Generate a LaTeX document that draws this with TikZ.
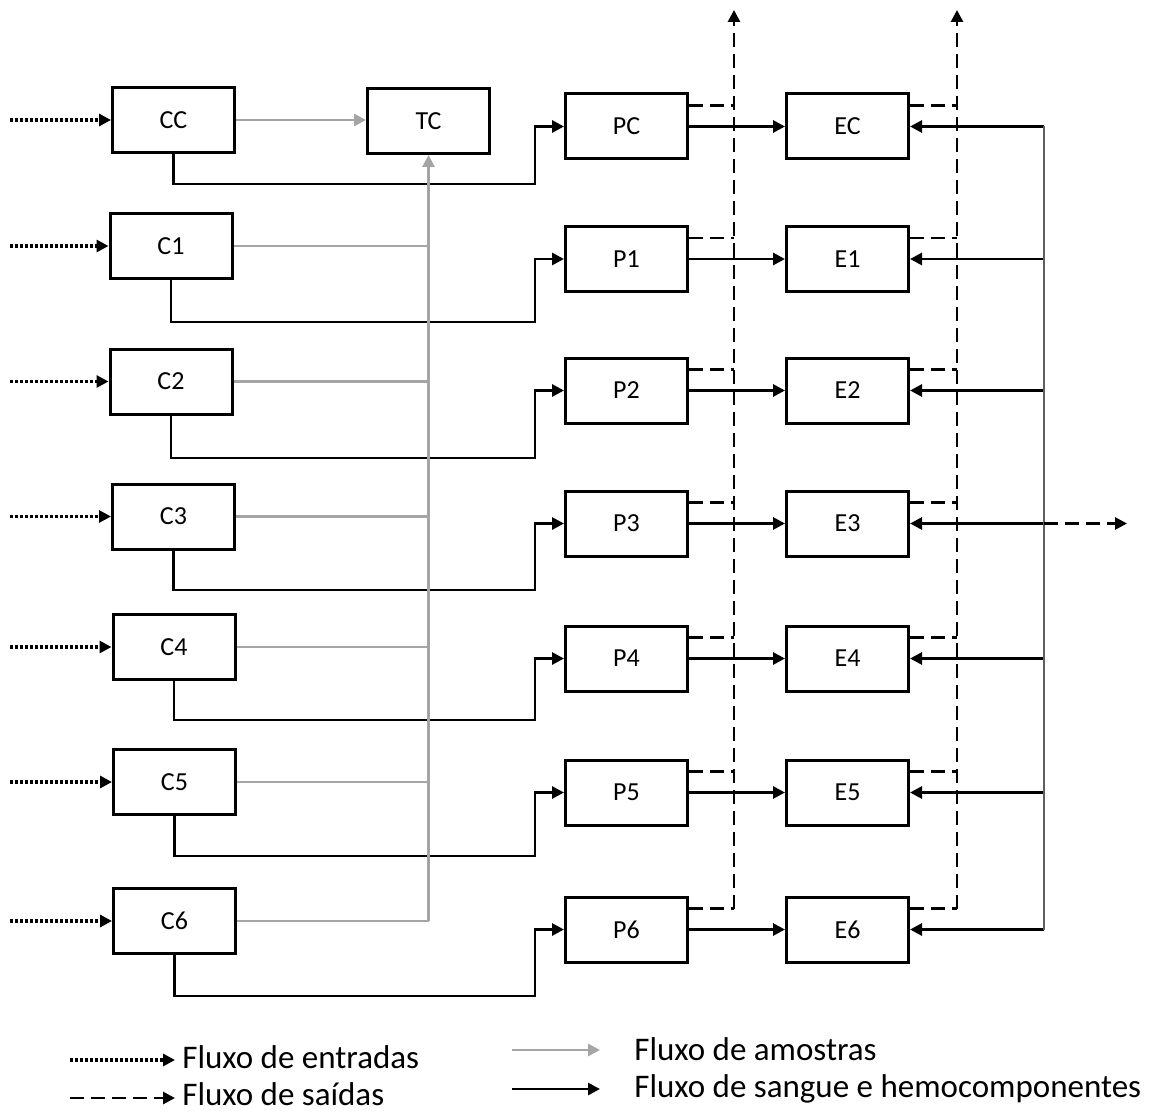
\documentclass[tikz,border=0pt]{standalone}
\usepackage{fontspec}
\setmainfont{Carlito}
\usetikzlibrary{arrows.meta}
\definecolor{amostra}{RGB}{165,165,165}
\definecolor{barra}{RGB}{95,95,95}
\tikzset{
  caixa/.style={draw, line width=1.5pt, minimum width=61pt, minimum height=32.5pt, inner sep=0pt, font=\fontsize{13}{15}\selectfont},
  ponta/.style={-{Triangle[length=6pt,width=6pt]}},
  sangue/.style={line width=1.4pt},
  amostras/.style={amostra, line width=1.4pt},
  entrada/.style={line width=1.6pt, dash pattern=on 1.4pt off 1.1pt},
  saida/.style={line width=1.4pt, dash pattern=on 7pt off 3.5pt},
  legenda/.style={anchor=base west, inner sep=0pt, font=\fontsize{16.5}{18}\selectfont}
}

\begin{document}
\begin{tikzpicture}[x=0.5pt,y=-0.5pt]
\useasboundingbox (0,0) rectangle (1163,1113);

\node[caixa] (tc) at (428.5,121) {TC};
\coordinate (outP) at (734,10);
\coordinate (outE) at (957,10);
\coordinate (saida3) at (1127,523.5);

% linhas: C, P e E
\foreach \n/\cx/\cy/\py/\ly in {C/173.5/120/126.5/184, 1/171/246/259/322, 2/171/381.5/390.5/458, 3/173.5/516.5/523.5/590, 4/174/647/658.5/720, 5/174.5/782/792.5/856, 6/174.5/921/929.5/996}{
  \node[caixa] (c\n) at (\cx,\cy) {C\n};
  \node[caixa] (p\n) at (626.5,\py) {P\n};
  \node[caixa] (e\n) at (847.5,\py) {E\n};
  \coordinate (in\n) at (10,\cy);
  \coordinate (r\n) at (1044,\py);
  \draw[entrada,ponta] (in\n) -- (c\n.west);
  \draw[sangue,ponta] (c\n.south) |- (535,\ly) |- (p\n.west);
  \draw[sangue,ponta] (p\n) -- (e\n);
  \draw[sangue,ponta] (r\n) -- (e\n.east);
  \draw[saida] ([yshift=-6.5pt]p\n.north east) -- ([yshift=-6.5pt]p\n.north east -| outP);
  \draw[saida] ([yshift=-6.5pt]e\n.north east) -- ([yshift=-6.5pt]e\n.north east -| outE);
}

% amostras
\draw[amostras,ponta] (cC.east) -- (cC.east -| tc.west);
\foreach \n in {1,...,6}
  \draw[amostras] (c\n.east) -- (c\n.east -| tc.south);
\draw[amostras,ponta] (c6.east -| tc.south) -- (tc.south);

% saidas
\draw[saida,ponta] ([yshift=-6.5pt]p6.north east -| outP) -- (outP);
\draw[saida,ponta] ([yshift=-6.5pt]e6.north east -| outE) -- (outE);
\draw[barra, line width=0.9pt] (rC) -- (r6);
\draw[saida,ponta] (r3) -- (saida3);

% legenda
\node[legenda] (t1) at (182,1068) {Fluxo de entradas};
\node[legenda] (t2) at (182,1105) {Fluxo de saídas};
\node[legenda] (t3) at (634,1060) {Fluxo de amostras};
\node[legenda] (t4) at (634,1097) {Fluxo de sangue e hemocomponentes};
\coordinate (l1) at (70,1060);
\coordinate (l2) at (70,1098);
\coordinate (l3) at (512,1050);
\coordinate (l4) at (512,1089);
\draw[entrada,ponta] (l1) -- (l1 -| 175,0);
\draw[saida,ponta] (l2) -- (l2 -| 175,0);
\draw[amostras,ponta] (l3) -- (l3 -| 600,0);
\draw[sangue,ponta] (l4) -- (l4 -| 600,0);

\end{tikzpicture}
\end{document}
